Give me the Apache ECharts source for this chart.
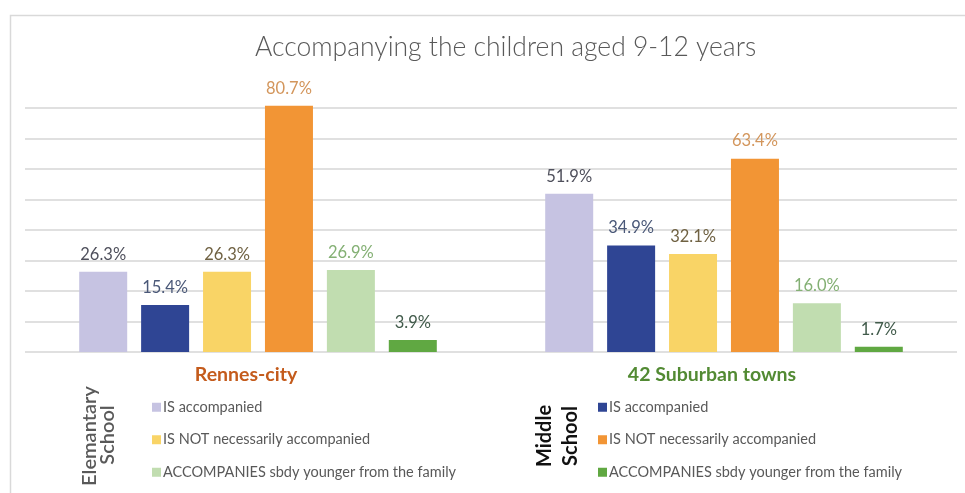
<!DOCTYPE html>
<html>
<head>
<meta charset="utf-8">
<script src="https://cdn.jsdelivr.net/npm/echarts@6/dist/echarts.min.js"></script>
<style>
html,body{margin:0;padding:0;background:#fff;}
#c{width:965px;height:493px;}
</style>
</head>
<body>
<div id="c"></div>
<script>
var titleText = 'Accompanying the children aged 9-12 years';
var categories = ['Rennes-city', '42 Suburban towns'];
var seriesNames = [
  'IS accompanied (Elemantary)', 'IS accompanied (Middle)',
  'IS NOT necessarily accompanied (Elemantary)', 'IS NOT necessarily accompanied (Middle)',
  'ACCOMPANIES sbdy younger from the family (Elemantary)', 'ACCOMPANIES sbdy younger from the family (Middle)'
];
var legendLabels = ['IS accompanied', 'IS accompanied', 'IS NOT necessarily accompanied', 'IS NOT necessarily accompanied', 'ACCOMPANIES sbdy younger from the family', 'ACCOMPANIES sbdy younger from the family'];
var elemAccompanied = [26.3, 51.9];
var midAccompanied = [15.4, 34.9];
var elemNotNecessarily = [26.3, 32.1];
var midNotNecessarily = [80.7, 63.4];
var elemAccompanies = [26.9, 16.0];
var midAccompanies = [3.9, 1.7];
var yTicks = [0, 10, 20, 30, 40, 50, 60, 70, 80, 90];

var seriesData = [elemAccompanied, midAccompanied, elemNotNecessarily, midNotNecessarily, elemAccompanies, midAccompanies];
var barColors = ['#c6c3e2', '#2f4594', '#f9d466', '#f29535', '#c1ddb0', '#60a842'];
var labelColors = ['#4f505c', '#4a5878', '#706243', '#d3965c', '#84b074', '#405a4a'];
var catColors = ['#c45b1c', '#528a33'];
var FONT = 'Lato, "Open Sans", sans-serif';

var chart = echarts.init(document.getElementById('c'));
var splitColors = yTicks.map(function (t, i) { return i === yTicks.length - 1 ? 'rgba(0,0,0,0)' : '#d6d6d6'; });

var series = seriesData.map(function (d, i) {
  return {
    name: seriesNames[i],
    type: 'bar',
    data: d,
    barWidth: 48,
    barGap: '29%',
    itemStyle: { color: barColors[i] },
    label: {
      show: true,
      position: 'top',
      distance: 9,
      formatter: function (p) { return p.value.toFixed(1) + '%'; },
      color: labelColors[i],
      fontSize: 16.5,
      fontFamily: FONT
    }
  };
});

function legendFor(indices, left) {
  return {
    orient: 'vertical',
    left: left,
    top: 399,
    padding: 0,
    icon: 'rect',
    itemWidth: 9,
    itemHeight: 9,
    itemGap: 16,
    selectedMode: false,
    data: indices.map(function (i) { return seriesNames[i]; }),
    formatter: function (name) { return legendLabels[seriesNames.indexOf(name)]; },
    textStyle: { color: '#595959', fontSize: 14.5, lineHeight: 16.5, fontFamily: FONT, padding: [0, 0, 0, -3] }
  };
}

chart.setOption({
  backgroundColor: '#fff',
  animation: false,
  title: {
    text: titleText,
    left: 250,
    top: 29,
    textStyle: { color: '#595959', fontSize: 26.5, fontWeight: 300, fontFamily: FONT }
  },
  grid: { left: 25, right: 8, top: 77.5, bottom: 141, containLabel: false },
  xAxis: {
    type: 'category',
    data: categories,
    axisLine: { show: false },
    axisTick: { show: false },
    axisLabel: {
      margin: 13,
      fontSize: 19.5,
      fontWeight: 'bold',
      fontFamily: FONT,
      padding: [0, 24, 0, 0],
      color: function (v, i) { return catColors[categories.indexOf(v)]; }
    }
  },
  yAxis: {
    type: 'value',
    min: yTicks[0],
    max: yTicks[yTicks.length - 1],
    interval: 10,
    axisLabel: { show: false },
    axisLine: { show: false },
    axisTick: { show: false },
    splitLine: { lineStyle: { color: splitColors, width: 1.5 } }
  },
  legend: [legendFor([0, 2, 4], 152), legendFor([1, 3, 5], 598)],
  series: series,
  graphic: [
    { type: 'rect', left: 8, top: 13, shape: { width: 1100, height: 1000 }, style: { fill: 'none', stroke: '#d9d9d9', lineWidth: 1.5 }, silent: true, z: -1 },
    { type: 'text', x: 90, y: 436, rotation: Math.PI / 2, style: { text: 'Elemantary', fill: '#595959', font: '600 20px ' + FONT, textAlign: 'center', textVerticalAlign: 'middle' } },
    { type: 'text', x: 108, y: 435, rotation: Math.PI / 2, style: { text: 'School', fill: '#595959', font: '600 20px ' + FONT, textAlign: 'center', textVerticalAlign: 'middle' } },
    { type: 'text', x: 545, y: 436, rotation: Math.PI / 2, style: { text: 'Middle', fill: '#111', font: 'bold 20px ' + FONT, textAlign: 'center', textVerticalAlign: 'middle' } },
    { type: 'text', x: 571, y: 436, rotation: Math.PI / 2, style: { text: 'School', fill: '#111', font: 'bold 20px ' + FONT, textAlign: 'center', textVerticalAlign: 'middle' } }
  ]
});
</script>
</body>
</html>
